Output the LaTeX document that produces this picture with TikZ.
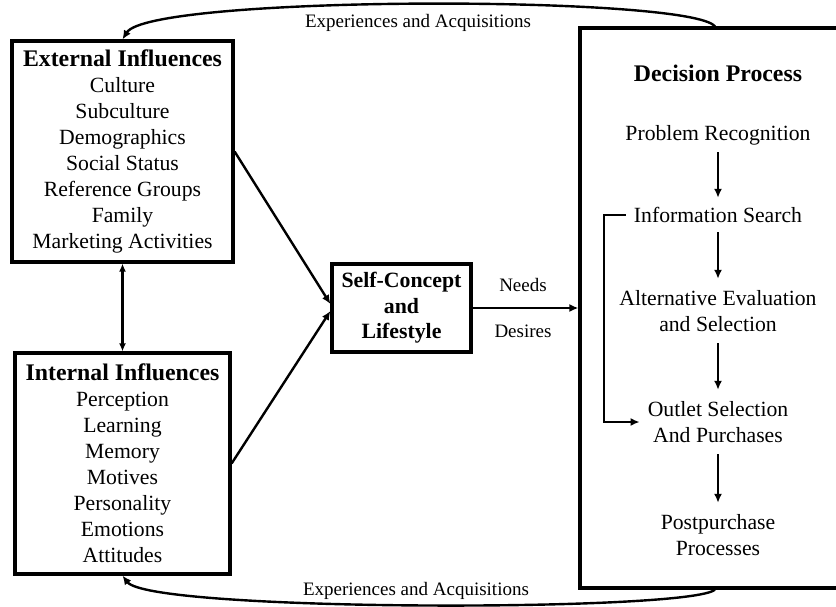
\documentclass[tikz,border=0pt]{standalone}
\usepackage{fontspec}
\setmainfont{Liberation Serif}
\usetikzlibrary{arrows.meta,calc}

\begin{document}
\begin{tikzpicture}[x=1pt, y=-1pt,
  box/.style={draw, line width=3.2pt, inner sep=0pt, align=center, font=\fontsize{21.7}{26}\selectfont},
  stage/.style={inner xsep=8pt, inner ysep=0pt, align=center, minimum height=#1, font=\fontsize{21.7}{26}\selectfont},
  stage/.default=34,
  head/.style={font=\fontsize{23.8}{26}\selectfont\bfseries},
  note/.style={font=\fontsize{19}{22}\selectfont},
  arrow/.style={-{Latex[length=9pt,width=8pt]}, line width=2.4pt},
  twoway/.style={{Latex[length=8pt,width=7pt]}-{Latex[length=8pt,width=7pt]}, line width=2.4pt}
]
\useasboundingbox (0,0) rectangle (836,606);

% Influence boxes
\node[box, minimum width=221pt, minimum height=221pt] (ext) at (122.5,151.5)
  {{\fontsize{23.8}{26}\selectfont\bfseries External Influences}\\ Culture\\ Subculture\\ Demographics\\ Social Status\\ Reference Groups\\ Family\\ Marketing Activities};
\node[box, minimum width=215pt, minimum height=221pt] (int) at (122.5,463.5)
  {{\fontsize{23.8}{26}\selectfont\bfseries Internal Influences}\\ Perception\\ Learning\\ Memory\\ Motives\\ Personality\\ Emotions\\ Attitudes};

% Self-concept
\node[box, minimum width=139pt, minimum height=88pt, font=\fontsize{21.8}{25.5}\selectfont\bfseries] (self) at (401.5,308)
  {Self-Concept\\ and\\ Lifestyle};

% Decision process
\node[box, minimum width=270pt, minimum height=560pt] (dec) at (715,308) {};
\node[head] (dectitle) at (718,73) {Decision Process};
\node[stage] (pr) at (718,135) {Problem Recognition};
\node[stage] (is) at (718,215) {Information Search};
\node[stage=64] (ae) at (718,311) {Alternative Evaluation\\ and Selection};
\node[stage=64] (os) at (718,422) {Outlet Selection\\ And Purchases};
\node[stage=64] (pp) at (718,535) {Postpurchase\\ Processes};

% Arrows
\draw[twoway] (ext.south) -- (int.north);
\draw[arrow] (ext.east) -- ($(self.west)+(0,-4)$);
\draw[arrow] (int.east) -- ($(self.west)+(0,3)$);
\draw[arrow] (self.east) -- (dec.west);
\draw[arrow] (pr.south) -- (is.north);
\draw[arrow] (is.south) -- (ae.north);
\draw[arrow] (ae.south) -- (os.north);
\draw[arrow] (os.south) -- (pp.north);
\draw[arrow] (is.west) -- ++(-22,0) |- (os.west);

% Feedback loops
\draw[arrow] (dec.north) .. controls (690,-5) and (150,-5) .. (ext.north);
\draw[arrow] (dec.south) .. controls (690,612) and (150,612) .. (int.south);

% Labels
\node[note] (needs) at (523,285) {Needs};
\node[note] (desires) at (523,331) {Desires};
\node[note] (exptop) at (418,23) {Experiences and Acquisitions};
\node[note] (expbot) at (416,591) {Experiences and Acquisitions};

\end{tikzpicture}
\end{document}
